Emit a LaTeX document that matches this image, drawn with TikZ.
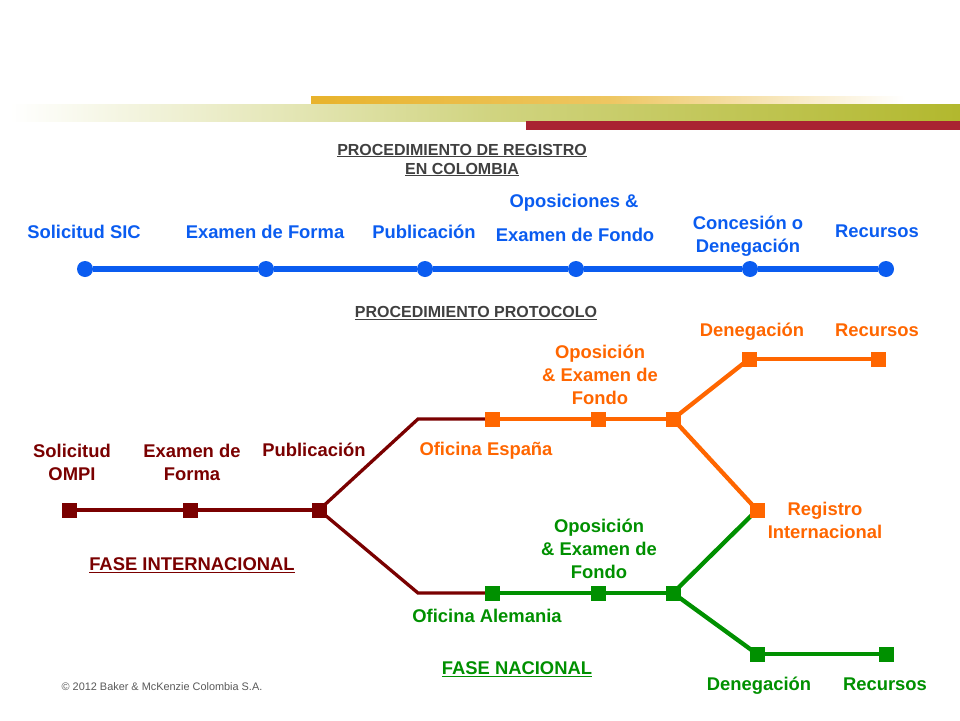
\documentclass[tikz,border=0pt]{standalone}
\usepackage{fontspec}
\setmainfont{Liberation Sans}
\usetikzlibrary{backgrounds}
\definecolor{azul}{HTML}{0A5CF0}
\definecolor{vino}{HTML}{7A0000}
\definecolor{naranja}{HTML}{FF6600}
\definecolor{verde}{HTML}{009000}
\definecolor{oro}{HTML}{E8B32C}
\definecolor{oliva}{HTML}{B2B82E}
\definecolor{rojo}{HTML}{A92332}
\begin{document}
\begin{tikzpicture}[x=1pt, y=-1pt]
\tikzstyle{hito} = [circle, fill=azul, inner sep=0, outer sep=0, minimum size=16pt]
\tikzstyle{caja} = [rectangle, inner sep=0, outer sep=0, minimum size=15pt]
\tikzstyle{tramo} = [line width=4.3pt]
\tikzstyle{etiq} = [font=\bfseries\fontsize{18.4}{23}\selectfont, align=center]
\tikzstyle{titulo} = [font=\bfseries\fontsize{16}{19}\selectfont, align=center, text=black!75]
\useasboundingbox (0,0) rectangle (960,720);
% bands
\shade[left color=oro, right color=white, middle color=oro!75!white] (311,96) rectangle (905,104);
\shade[left color=white, right color=oliva, middle color=oliva!60!white] (10,104) rectangle (960,121);
\fill[rojo] (526,121) rectangle (960,130);
% registro
\node[titulo] (tituloA) at (462,160) {\underline{PROCEDIMIENTO DE REGISTRO}\\\underline{EN COLOMBIA}};
\node[hito] (a1) at (85,269) {};
\node[hito] (a2) at (266,269) {};
\node[hito] (a3) at (425,269) {};
\node[hito] (a4) at (576,269) {};
\node[hito] (a5) at (750,269) {};
\node[hito] (a6) at (886,269) {};
\draw[azul, line width=6pt] (a1)--(a2);
\draw[azul, line width=6pt] (a2)--(a3);
\draw[azul, line width=6pt] (a3)--(a4);
\draw[azul, line width=6pt] (a4)--(a5);
\draw[azul, line width=6pt] (a5)--(a6);
\node[etiq, text=azul] (la1) at (84,232) {Solicitud SIC};
\node[etiq, text=azul] (la2) at (265,232) {Examen de Forma};
\node[etiq, text=azul] (la3) at (424,232) {Publicación};
\node[etiq, text=azul] (la4a) at (574,203) {Oposiciones \&};
\node[etiq, text=azul] (la4b) at (575,235) {Examen de Fondo};
\node[etiq, text=azul] (la5) at (748,236) {Concesión o\\Denegación};
\node[etiq, text=azul] (la6) at (877,231) {Recursos};
% protocolo
\node[titulo] (tituloB) at (476,313) {\underline{PROCEDIMIENTO PROTOCOLO}};
\node[caja, fill=vino] (b1) at (69,510) {};
\node[caja, fill=vino] (b2) at (190,510) {};
\node[caja, fill=vino] (b3) at (319,510) {};
\coordinate (e1) at (418,419);
\coordinate (e2) at (418,593);
\node[caja, fill=naranja] (c1) at (492,419) {};
\node[caja, fill=naranja] (c2) at (598,419) {};
\node[caja, fill=naranja] (c3) at (673,419) {};
\node[caja, fill=naranja] (c4) at (749,359) {};
\node[caja, fill=naranja] (c5) at (878,359) {};
\node[caja, fill=naranja] (c6) at (757,510) {};
\node[caja, fill=verde] (d1) at (492,593) {};
\node[caja, fill=verde] (d2) at (598,593) {};
\node[caja, fill=verde] (d3) at (673,593) {};
\node[caja, fill=verde] (d4) at (757,654) {};
\node[caja, fill=verde] (d5) at (886,654) {};
\begin{scope}[on background layer]
\draw[tramo, vino] (b1.center)--(b2.center);
\draw[tramo, vino] (b2.center)--(b3.center);
\draw[tramo, vino, line width=3.3pt] (b3.center)--(e1)--(c1.center);
\draw[tramo, vino, line width=3.3pt] (b3.center)--(e2)--(d1.center);
\draw[tramo, naranja] (c1.center)--(c2.center);
\draw[tramo, naranja] (c2.center)--(c3.center);
\draw[tramo, naranja] (c3.center)--(c4.center);
\draw[tramo, naranja] (c4.center)--(c5.center);
\draw[tramo, naranja] (c3.center)--(c6.center);
\draw[tramo, verde] (d1.center)--(d2.center);
\draw[tramo, verde] (d2.center)--(d3.center);
\draw[tramo, verde] (d3.center)--(c6.center);
\draw[tramo, verde] (d3.center)--(d4.center);
\draw[tramo, verde] (d4.center)--(d5.center);
\end{scope}
\node[etiq, text=vino] (lb1) at (72,462) {Solicitud\\OMPI};
\node[etiq, text=vino] (lb2) at (192,462) {Examen de\\Forma};
\node[etiq, text=vino] (lb3) at (314,450) {Publicación};
\node[etiq, text=vino] (fi) at (192,565) {\underline{FASE INTERNACIONAL}};
\node[etiq, text=naranja] (lc2) at (600,375) {Oposición\\\&~Examen de\\Fondo};
\node[etiq, text=naranja] (lc1) at (486,451) {Oficina España};
\node[etiq, text=naranja] (lc4) at (752,332) {Denegación};
\node[etiq, text=naranja] (lc5) at (877,330) {Recursos};
\node[etiq, text=naranja] (lc6) at (825,520) {Registro\\Internacional};
\node[etiq, text=verde] (ld2) at (599,549) {Oposición\\\&~Examen de\\Fondo};
\node[etiq, text=verde] (ld1) at (487,616) {Oficina Alemania};
\node[etiq, text=verde] (fn) at (517,669) {\underline{FASE NACIONAL}};
\node[etiq, text=verde] (ld4) at (759,686) {Denegación};
\node[etiq, text=verde] (ld5) at (885,684) {Recursos};
\node[font=\fontsize{10.9}{12}\selectfont, text=black!65] (pie) at (162,687) {© 2012 Baker \& McKenzie Colombia S.A.};
\end{tikzpicture}
\end{document}
